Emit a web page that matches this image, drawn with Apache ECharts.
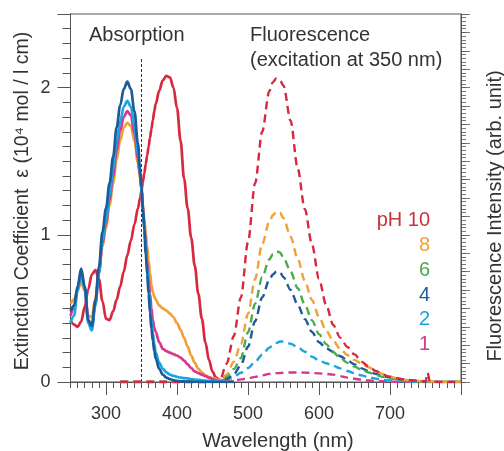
<!DOCTYPE html>
<html><head><meta charset="utf-8">
<script src="https://cdn.jsdelivr.net/npm/echarts@6/dist/echarts.min.js"></script>
<style>html,body{margin:0;padding:0;background:#fff}#c{width:504px;height:451px}</style>
</head><body><div id="c"></div><script>
// ---------- data ----------
const absWl = [250,255,260,265,270,275,280,285,290,295,300,305,310,315,320,325,330,335,340,345,348,350,352,354,356,358,360,362,364,366,368,370,375,380,385,390,395,400,405,410,415,420,425,430,435,440,445,450,455,460,470,480];
const absPH10 = [0.42,0.39,0.375,0.41,0.51,0.63,0.73,0.76,0.70,0.55,0.43,0.42,0.48,0.56,0.65,0.75,0.86,0.96,1.07,1.18,1.25,1.30,1.36,1.42,1.48,1.54,1.60,1.66,1.72,1.78,1.84,1.89,1.98,2.05,2.08,2.07,2.00,1.86,1.64,1.38,1.18,0.98,0.79,0.60,0.43,0.27,0.15,0.07,0.03,0.015,0.005,0];
const absPH8 = [0.53,0.56,0.62,0.68,0.62,0.45,0.44,0.57,0.74,0.92,1.05,1.20,1.35,1.51,1.64,1.73,1.76,1.74,1.64,1.49,1.38,1.31,1.21,1.11,1.01,0.92,0.83,0.74,0.66,0.61,0.58,0.56,0.52,0.50,0.485,0.465,0.44,0.40,0.355,0.30,0.24,0.18,0.13,0.09,0.065,0.045,0.035,0.027,0.02,0.012,0.005,0];
const absPH4 = [0.48,0.52,0.65,0.77,0.65,0.42,0.38,0.55,0.78,1.02,1.18,1.35,1.53,1.73,1.88,1.99,2.04,1.99,1.84,1.62,1.44,1.32,1.17,1.03,0.87,0.73,0.60,0.47,0.36,0.28,0.21,0.16,0.09,0.05,0.03,0.02,0.012,0.008,0.005,0.004,0.003,0.002,0.001,0,0,0,0,0,0,0,0,0];
const absPH2 = [0.40,0.45,0.62,0.74,0.63,0.40,0.35,0.52,0.74,0.96,1.10,1.27,1.45,1.63,1.77,1.87,1.91,1.87,1.74,1.55,1.41,1.31,1.18,1.05,0.91,0.78,0.65,0.53,0.42,0.33,0.26,0.20,0.13,0.09,0.065,0.05,0.042,0.035,0.03,0.027,0.024,0.02,0.017,0.014,0.011,0.009,0.007,0.005,0.003,0.002,0,0];
const absPH1 = [0.45,0.50,0.63,0.74,0.64,0.42,0.38,0.53,0.74,0.94,1.08,1.24,1.40,1.57,1.71,1.80,1.84,1.81,1.69,1.52,1.40,1.31,1.19,1.07,0.94,0.82,0.70,0.60,0.50,0.42,0.37,0.34,0.27,0.225,0.21,0.20,0.19,0.18,0.165,0.145,0.12,0.095,0.072,0.06,0.05,0.04,0.03,0.02,0.01,0.005,0,0];

const flWl = [320,340,360,380,400,420,440,450,460,470,480,490,500,510,520,530,535,540,545,550,560,570,580,590,600,610,620,630,640,650,660,670,680,690,700,710,720,730,740,750,753,756,760,770,780,790,800];
const flPH10 = [0,0,0,0,0,0,0,0,0.3,5,12.5,23,38,54,68,79,81.5,82.5,82,80.5,71,58,47,37.5,28,21,15.5,12,9.5,7.5,5.5,4.2,3,2,1.4,1,0.7,0.5,0.3,0.2,2.5,0.2,0.1,0,0,0,0];
const flPH8 = [0,0,0,0,0,0,0,0,0.5,2,5.5,10.3,18.5,28,37.5,43.5,45.3,46.3,46,44.5,39.5,33.5,27.5,22.3,17.7,14,11.2,9,7.3,6,5,4,3,2.2,1.5,1,0.6,0.4,0.3,0.2,0.2,0.1,0.1,0,0,0,0];
const flPH6 = [0,0,0,0,0,0,0,0,0.3,1.5,3.5,6.5,13.5,21.3,28.5,33.3,34.7,35.5,35.2,33.8,30,25.5,21,16.8,13,10.3,8.1,6.5,5.2,4.2,3.3,2.6,1.9,1.4,1,0.7,0.5,0.3,0.2,0.1,0.1,0.1,0,0,0,0,0];
const flPH4 = [0,0,0,0,0,0,0,0,0.2,0.9,2.1,4.6,9.6,16.5,23,27.8,29.2,30,29.8,28.5,25,21,17.1,13.6,10.8,9.2,8.2,7,5.9,4.8,3.7,2.9,2.2,1.6,1.2,0.9,0.6,0.4,0.2,0.1,0.1,0,0,0,0,0,0];
const flPH2 = [0,0,0,0,0,0,0,0,0.1,0.6,1.4,2.5,3.8,5.5,7.4,9.3,10,10.6,11,11,10.4,9.5,8.2,6.9,5.9,5.1,4.4,3.7,3,2.4,1.8,1.3,0.9,0.6,0.4,0.3,0.2,0.1,0,0,0,0,0,0,0,0,0];
const flPH1 = [0,0,0,0,0,0,0,0,0,0.2,0.4,0.7,1,1.4,1.8,2.2,2.3,2.4,2.45,2.5,2.6,2.6,2.55,2.45,2.35,2.2,2,1.6,1.2,0.9,0.6,0.4,0.3,0.2,0.1,0,0,0,0,0,0,0,0,0,0,0,0];

const excitationNm = 350;
const excitationTop = 2.2;
const xMajorTicks = [300,400,500,600,700,800];
const xTickLabels = [300,400,500,600,700];
const yMajorTicks = [0,1,2,2.5];
const yTickLabels = [0,1,2];
const phLabels = ['pH 10','8','6','4','2','1'];

// ---------- style ----------
const C = {red:'#d8283f', orange:'#f0a035', green:'#4aaa4e', blue:'#1d5a9a', cyan:'#1aa5dc', magenta:'#d8368f'};
const FONT = '"Liberation Sans", Arial, Helvetica, sans-serif';
const AX = '#555';
const TXT = '#333';

const pair = (xs, ys) => xs.map((x,i)=>[x, ys[i]]);
function absSeries(name, ys, color){
  return {name, type:'line', xAxisIndex:1, yAxisIndex:1, data:pair(absWl, ys), showSymbol:false, symbol:'none',
    smooth:0.35, smoothMonotone:'x', lineStyle:{color, width:2.7}, z:3};
}
function flSeries(name, ys, color){
  return {name, type:'line', xAxisIndex:1, yAxisIndex:2, data:pair(flWl, ys), showSymbol:false, symbol:'none',
    smooth:0.3, smoothMonotone:'x', lineStyle:{color, width:2.4, type:[8,5]}, z:2};
}

const chart = echarts.init(document.getElementById('c'), null, {renderer:'canvas'});
chart.setOption({
  animation:false,
  backgroundColor:'#fff',
  textStyle:{fontFamily:FONT},
  grid:{left:70.5, right:43, top:14, bottom:69, show:true, borderColor:AX, borderWidth:1, backgroundColor:'transparent'},
  xAxis:[
    {type:'value', min:250, max:800, interval:10, position:'bottom',
     axisLine:{show:true, lineStyle:{color:AX}}, axisTick:{show:true, inside:false, length:6, lineStyle:{color:AX}},
     axisLabel:{show:false}, splitLine:{show:false}},
    {type:'value', min:250, max:800, position:'bottom',
     axisLine:{show:true, lineStyle:{color:AX}},
     axisTick:{show:true, length:13, customValues:xMajorTicks, lineStyle:{color:AX}},
     axisLabel:{show:true, customValues:xTickLabels, fontSize:18, color:TXT, margin:23, fontFamily:FONT},
     splitLine:{show:false}}
  ],
  yAxis:[
    {type:'value', min:0, max:2.5, interval:0.1, position:'left',
     axisLine:{show:true, lineStyle:{color:AX}}, axisTick:{show:true, length:8, lineStyle:{color:AX}},
     axisLabel:{show:false}, splitLine:{show:false}},
    {type:'value', min:0, max:2.5, position:'left',
     axisLine:{show:true, lineStyle:{color:AX}},
     axisTick:{show:true, length:13, customValues:yMajorTicks, lineStyle:{color:AX}},
     axisLabel:{show:true, customValues:yTickLabels, fontSize:18, color:TXT, margin:20, fontFamily:FONT},
     splitLine:{show:false}},
    {type:'value', min:0, max:100, interval:1, position:'right',
     axisLine:{show:true, lineStyle:{color:AX}}, axisTick:{show:true, length:5, lineStyle:{color:AX, width:0.8}},
     axisLabel:{show:false}, splitLine:{show:false}},
    {type:'value', min:0, max:100, interval:5, position:'right',
     axisLine:{show:false}, axisTick:{show:true, length:9, lineStyle:{color:AX, width:0.8}},
     axisLabel:{show:false}, splitLine:{show:false}}
  ],
  series:[
    flSeries('pH 1 fl', flPH1, C.magenta),
    flSeries('pH 2 fl', flPH2, C.cyan),
    flSeries('pH 4 fl', flPH4, C.blue),
    flSeries('pH 6 fl', flPH6, C.green),
    flSeries('pH 8 fl', flPH8, C.orange),
    flSeries('pH 10 fl', flPH10, C.red),
    absSeries('pH 10', absPH10, C.red),
    absSeries('pH 8', absPH8, C.orange),
    absSeries('pH 1', absPH1, C.magenta),
    absSeries('pH 2', absPH2, C.cyan),
    absSeries('pH 4', absPH4, C.blue),
    {name:'excitation', type:'line', xAxisIndex:1, yAxisIndex:1, data:[[excitationNm,0],[excitationNm,excitationTop]],
     showSymbol:false, symbol:'none', lineStyle:{color:'#333', width:1, type:[3,2]}, z:1}
  ],
  graphic:[
    {type:'text', left:89, top:25, style:{text:'Absorption', font:'20px '+FONT, fill:TXT}},
    {type:'text', left:250, top:25, style:{text:'Fluorescence', font:'20px '+FONT, fill:TXT}},
    {type:'text', left:250, top:50, style:{text:'(excitation at 350 nm)', font:'20px '+FONT, fill:TXT}},
    {type:'text', x:278, y:441, style:{text:'Wavelength (nm)', font:'20px '+FONT, fill:TXT, align:'center', verticalAlign:'middle'}},
    {type:'text', x:23, y:201, rotation:Math.PI/2, style:{text:'Extinction Coefficient  ε (10⁴ mol / l cm)', font:'19.5px '+FONT, fill:TXT, align:'center', verticalAlign:'middle'}},
    {type:'text', x:495, y:216, rotation:Math.PI/2, style:{text:'Fluorescence Intensity (arb. unit)', font:'20px '+FONT, fill:TXT, align:'center', verticalAlign:'middle'}},
    {type:'text', x:430, y:220, style:{text:phLabels[0], font:'20px '+FONT, fill:'#c8333f', align:'right', verticalAlign:'middle'}},
    {type:'text', x:430, y:245, style:{text:phLabels[1], font:'20px '+FONT, fill:C.orange, align:'right', verticalAlign:'middle'}},
    {type:'text', x:430, y:270, style:{text:phLabels[2], font:'20px '+FONT, fill:C.green, align:'right', verticalAlign:'middle'}},
    {type:'text', x:430, y:295, style:{text:phLabels[3], font:'20px '+FONT, fill:C.blue, align:'right', verticalAlign:'middle'}},
    {type:'text', x:430, y:319.5, style:{text:phLabels[4], font:'20px '+FONT, fill:C.cyan, align:'right', verticalAlign:'middle'}},
    {type:'text', x:430, y:344, style:{text:phLabels[5], font:'20px '+FONT, fill:C.magenta, align:'right', verticalAlign:'middle'}}
  ]
});
</script></body></html>
